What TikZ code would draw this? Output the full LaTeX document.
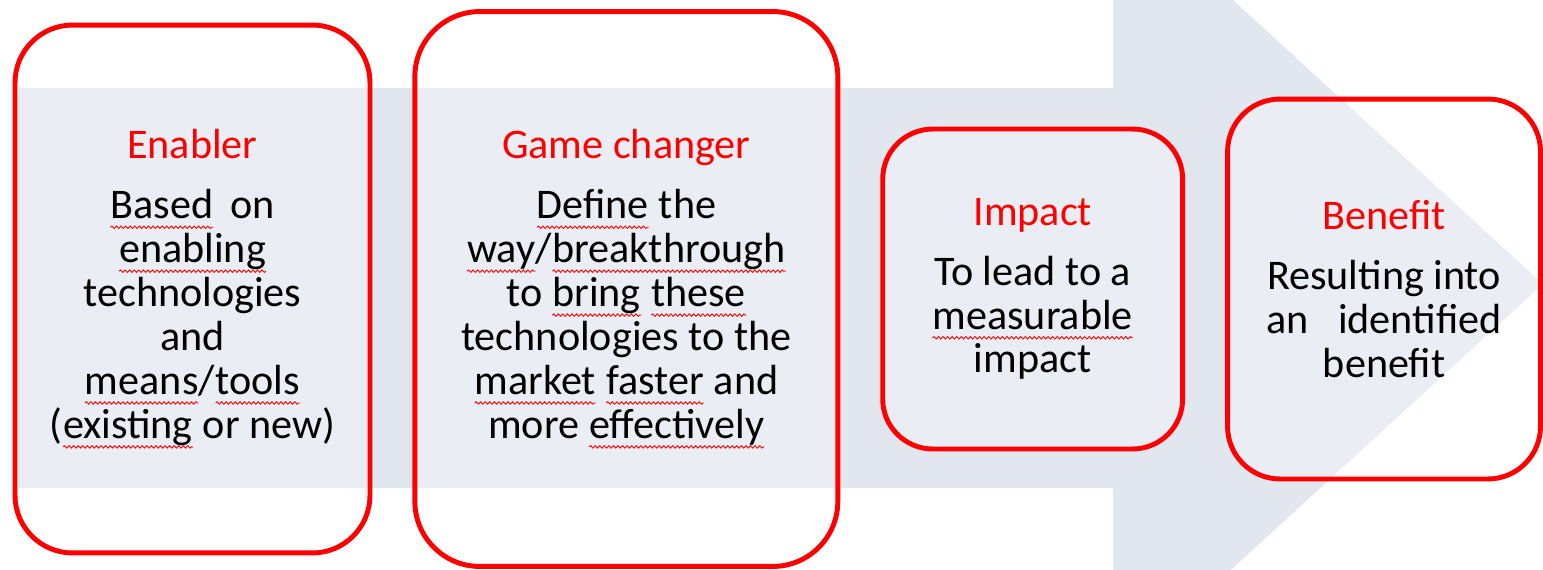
\documentclass[tikz,border=0pt]{standalone}
\usepackage{fontspec}
\setmainfont{Carlito}
\usepackage{tikz}
\usetikzlibrary{positioning,decorations.pathmorphing}
\usepackage{xcolor}
\definecolor{flowgray}{RGB}{226,230,239}
\definecolor{stagered}{RGB}{255,0,0}
\tikzstyle{stage} = [rectangle, draw=stagered, line width=2.8pt, fill=white, fill opacity=0.3, text opacity=1, align=center, inner sep=0pt, font=\fontsize{24}{25}\selectfont]
\tikzstyle{flow} = [fill=flowgray]
\tikzstyle{squiggle} = [draw=stagered, sharp corners, line width=0.5pt, draw opacity=1, decorate, decoration={snake, amplitude=0.7pt, segment length=2.6pt}]
\newcommand{\stagetitle}[1]{{\color{stagered}#1}\\[9pt]}
\newcommand{\spell}[1]{\tikz[baseline=(w.base)]{\node[inner sep=0pt, outer sep=0pt, minimum width=0pt, minimum height=0pt, draw=none, fill=none, sharp corners, text opacity=1] (w) {#1};
  \draw[squiggle] ([yshift=-5pt]w.base west) -- ([yshift=-5pt]w.base east);}}

\begin{document}
\begin{tikzpicture}[x=0.02cm, y=-0.02cm]
\useasboundingbox (0,0) rectangle (1543,569);
\clip (0,0) rectangle (1543,569);

% Big process arrow
\path[flow] (18,88) -- (1113,88) -- (1113,-110) -- (1543,284) -- (1113,678) -- (1113,488) -- (18,488) -- cycle;

% Stages
\node[stage, minimum width=7.1cm, minimum height=10.56cm, rounded corners=1.15cm] (enabler) at (192.5,289)
  {\stagetitle{Enabler}\spell{Based}\hspace{0.4em}on\\\spell{enabling}\\technologies\\and\\\spell{means}/\spell{tools}\\(\spell{existing} or new)};
\node[stage, minimum width=8.46cm, minimum height=11.1cm, rounded corners=1.3cm, right=0.8cm of enabler] (changer)
  {\stagetitle{Game changer}\spell{Define} the\\\spell{way}/\spell{breakthrough}\\to \spell{bring} \spell{these}\\technologies to the\\\spell{market} \spell{faster} and\\more \spell{effectively}};
\node[stage, minimum width=6cm, minimum height=6.4cm, rounded corners=1cm, right=0.8cm of changer] (impact)
  {\stagetitle{Impact}To lead to a\\\spell{measurable}\\impact};
\node[stage, minimum width=6.26cm, minimum height=7.6cm, rounded corners=1.05cm, right=0.8cm of impact] (benefit)
  {\stagetitle{Benefit}Resulting into\\an\hspace{0.7em}identified\\benefit};
\end{tikzpicture}
\end{document}
